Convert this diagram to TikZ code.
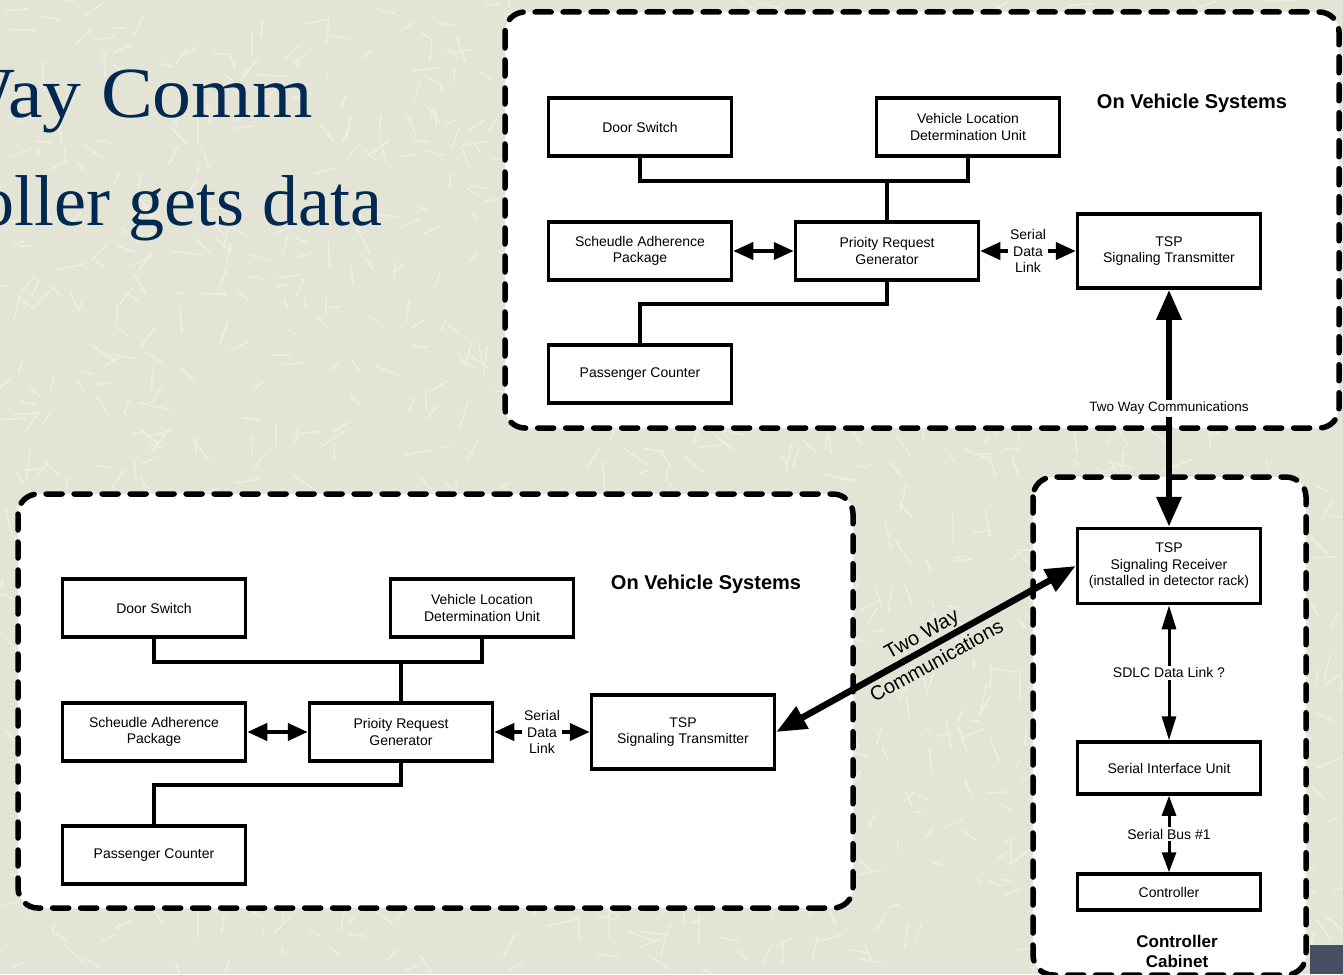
\documentclass[tikz,border=0pt]{standalone}
\usepackage{fontspec}
\setmainfont{Liberation Sans}
\newfontfamily\titlefont{Liberation Serif}
\usetikzlibrary{arrows.meta}
\definecolor{slidebg}{RGB}{228,228,214}
\definecolor{streak}{RGB}{237,237,226}
\definecolor{titleblue}{RGB}{0,41,82}
\definecolor{cornerblue}{RGB}{72,78,98}

\begin{document}
\begin{tikzpicture}[x=1pt,y=-1pt,
    box/.style={draw,line width=3.5pt,fill=white,minimum width=183pt,minimum height=58pt,
        inner sep=0pt,align=center,font=\fontsize{14}{16.5}\selectfont},
    region/.style={draw,line width=5.5pt,fill=white,rounded corners=20pt,line cap=round,
        dash pattern=on 16pt off 12pt},
    heading/.style={font=\bfseries\fontsize{20}{21}\selectfont,align=center},
    wire/.style={line width=3.5pt},
    dlink/.style={line width=4pt,{Triangle[length=20pt,width=17pt]}-{Triangle[length=20pt,width=17pt]}},
    slink/.style={line width=3pt,{Triangle[length=24pt,width=14pt]}-{Triangle[length=24pt,width=14pt]}},
    comm/.style={line width=6.5pt,{Triangle[length=30pt,width=24pt]}-{Triangle[length=30pt,width=24pt]}},
    lbl/.style={fill=white,inner sep=2pt,align=center,font=\fontsize{14}{16.5}\selectfont}]
    \useasboundingbox (0,0) rectangle (1343,974);
    \fill[slidebg] (0,0) rectangle (1343,974);
    \pgfmathsetseed{7}
    \foreach \i in {1,...,1400}
        \draw[streak,line width=1.6pt,line cap=round] (rnd*1343,rnd*974) -- ++(rnd*360:6+rnd*26);
    \fill[cornerblue] (1310,945) rectangle (1343,974);

    \node[anchor=base east,inner sep=0pt,text=titleblue,font=\titlefont\fontsize{72}{80}\selectfont,xscale=1.08] (title1) at (313,117) {Way Comm};
    \node[anchor=base east,inner sep=0pt,text=titleblue,font=\titlefont\fontsize{72}{80}\selectfont] (title2) at (383,225) {oller gets data};

    \draw[region] (505,12) rectangle (1339,428);
    \draw[region] (18,494) rectangle (853,908);
    \draw[region] (1033,477) rectangle (1306,975);

    % upper vehicle
    \node[heading] (ovs1) at (1192,103) {On Vehicle Systems};
    \node[box] (ds1) at (640,127) {Door Switch};
    \node[box] (vl1) at (968,127) {Vehicle Location\\Determination Unit};
    \node[box] (sap1) at (640,251) {Scheudle Adherence\\Package};
    \node[box] (prg1) at (887,251) {Prioity Request\\Generator};
    \node[box,minimum height=74pt] (tx1) at (1169,251) {TSP\\Signaling Transmitter};
    \node[box] (pc1) at (640,374) {Passenger Counter};
    \draw[wire] (ds1.south) -- ++(0,23) coordinate (j1) -| (vl1.south);
    \draw[wire] (prg1.north) -- (prg1.north |- j1);
    \draw[wire] (prg1.south) -- ++(0,22) -| (pc1.north);
    \draw[dlink] (sap1.east) -- (prg1.west);
    \draw[dlink] (prg1.east) -- (tx1.west) node[lbl,midway] {Serial\\Data\\Link};

    % lower vehicle
    \node[heading] (ovs2) at (706,584) {On Vehicle Systems};
    \node[box] (ds2) at (154,608) {Door Switch};
    \node[box] (vl2) at (482,608) {Vehicle Location\\Determination Unit};
    \node[box] (sap2) at (154,732) {Scheudle Adherence\\Package};
    \node[box] (prg2) at (401,732) {Prioity Request\\Generator};
    \node[box,minimum height=74pt] (tx2) at (683,732) {TSP\\Signaling Transmitter};
    \node[box] (pc2) at (154,855) {Passenger Counter};
    \draw[wire] (ds2.south) -- ++(0,23) coordinate (j2) -| (vl2.south);
    \draw[wire] (prg2.north) -- (prg2.north |- j2);
    \draw[wire] (prg2.south) -- ++(0,22) -| (pc2.north);
    \draw[dlink] (sap2.east) -- (prg2.west);
    \draw[dlink] (prg2.east) -- (tx2.west) node[lbl,midway] {Serial\\Data\\Link};

    % controller cabinet
    \node[box,minimum height=75pt] (rx) at (1169,566) {TSP\\Signaling Receiver\\(installed in detector rack)};
    \node[box,minimum height=52pt] (siu) at (1169,768) {Serial Interface Unit};
    \node[box,minimum height=36pt] (ctrl) at (1169,892) {Controller};
    \node[heading,font=\bfseries\fontsize{17}{20}\selectfont] (cab) at (1177,951) {Controller\\Cabinet};
    \draw[slink] (rx.south) -- (siu.north) node[lbl,midway] {SDLC Data Link ?};
    \draw[slink,{Triangle[length=20pt,width=14pt]}-{Triangle[length=20pt,width=14pt]}] (siu.south) -- (ctrl.north) node[lbl,midway] {Serial Bus \#1};

    \draw[comm] (tx1.south) -- (rx.north) node[lbl,midway,font=\fontsize{13.5}{16}\selectfont] {Two Way Communications};
    \draw[comm] (tx2.east) -- (rx.west) node[pos=0.51,sloped,align=center,inner sep=1pt,font=\fontsize{20}{31}\selectfont] {Two Way\\Communications};
\end{tikzpicture}
\end{document}
